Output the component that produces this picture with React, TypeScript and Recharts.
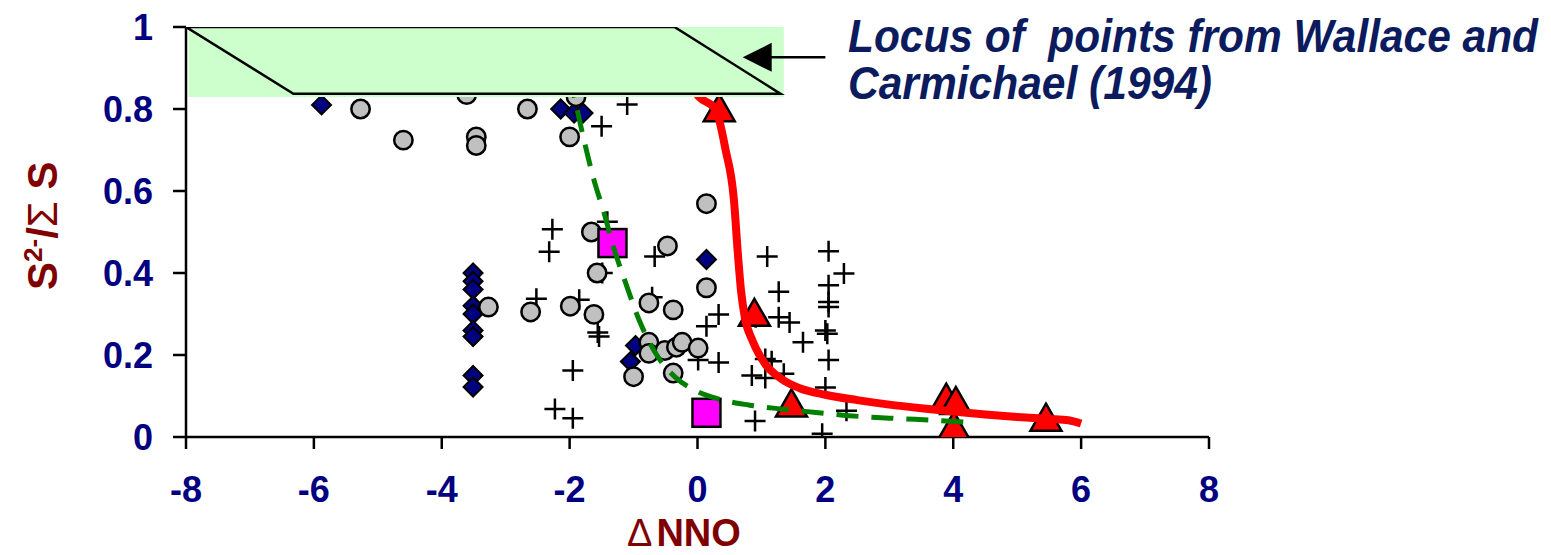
// S2-/ΣS vs ΔNNO scatter with Wallace & Carmichael locus box
import { ComposedChart, Scatter, Line, XAxis, YAxis, ReferenceArea } from "recharts";

const xTicks = [-8, -6, -4, -2, 0, 2, 4, 6, 8];
const yTicks = [0, 0.2, 0.4, 0.6, 0.8, 1];

const grayCircles = [
  { x: -5.27, y: 0.8 }, { x: -4.6, y: 0.724 }, { x: -3.61, y: 0.835 }, { x: -3.46, y: 0.732 },
  { x: -3.46, y: 0.711 }, { x: -2.66, y: 0.8 }, { x: -2.0, y: 0.732 }, { x: -1.9, y: 0.83 },
  { x: -1.66, y: 0.5 }, { x: -1.57, y: 0.4 }, { x: -3.27, y: 0.317 }, { x: -2.61, y: 0.305 },
  { x: -1.99, y: 0.319 }, { x: -1.62, y: 0.299 }, { x: -0.76, y: 0.327 }, { x: -0.38, y: 0.31 },
  { x: -0.76, y: 0.231 }, { x: -0.76, y: 0.204 }, { x: -0.51, y: 0.211 }, { x: -0.33, y: 0.219 },
  { x: -0.24, y: 0.231 }, { x: 0.01, y: 0.217 }, { x: -1.0, y: 0.147 }, { x: -0.38, y: 0.156 },
  { x: 0.14, y: 0.569 }, { x: -0.47, y: 0.466 }, { x: 0.14, y: 0.364 },
];

const navyDiamonds = [
  { x: -5.88, y: 0.81 }, { x: -2.14, y: 0.8 }, { x: -1.93, y: 0.79 }, { x: -1.79, y: 0.79 },
  { x: -3.51, y: 0.4 }, { x: -3.51, y: 0.38 }, { x: -3.51, y: 0.36 }, { x: -3.51, y: 0.32 },
  { x: -3.51, y: 0.3 }, { x: -3.51, y: 0.26 }, { x: -3.51, y: 0.245 }, { x: -3.51, y: 0.15 },
  { x: -3.51, y: 0.122 }, { x: -0.97, y: 0.223 }, { x: -1.05, y: 0.184 }, { x: 0.14, y: 0.433 },
];

const crosses = [
  { x: -2.27, y: 0.507 }, { x: -2.32, y: 0.452 }, { x: -1.41, y: 0.525 }, { x: -0.67, y: 0.44 },
  { x: -1.49, y: 0.4 }, { x: -2.52, y: 0.337 }, { x: -1.85, y: 0.335 }, { x: -1.56, y: 0.255 },
  { x: -1.54, y: 0.245 }, { x: -0.71, y: 0.341 }, { x: -1.95, y: 0.162 }, { x: -2.23, y: 0.068 },
  { x: -1.95, y: 0.046 }, { x: 0.33, y: 0.299 }, { x: 0.14, y: 0.27 }, { x: 0.01, y: 0.188 },
  { x: 0.33, y: 0.182 }, { x: 1.09, y: 0.44 }, { x: 1.27, y: 0.354 }, { x: 0.91, y: 0.292 },
  { x: 1.27, y: 0.292 }, { x: 1.44, y: 0.279 }, { x: 1.65, y: 0.231 }, { x: 1.06, y: 0.19 },
  { x: 1.16, y: 0.185 }, { x: 0.85, y: 0.15 }, { x: 1.06, y: 0.144 }, { x: 1.35, y: 0.154 },
  { x: 0.9, y: 0.039 }, { x: 2.05, y: 0.453 }, { x: 2.29, y: 0.399 }, { x: 2.05, y: 0.37 },
  { x: 2.05, y: 0.329 }, { x: 2.05, y: 0.317 }, { x: 2.0, y: 0.26 }, { x: 2.03, y: 0.252 },
  { x: 2.05, y: 0.188 }, { x: 2.0, y: 0.121 }, { x: 1.95, y: 0.008 }, { x: 2.33, y: 0.064 },
  { x: -1.5, y: 0.758 }, { x: -1.1, y: 0.811 },
];

const magentaSquares = [{ x: -5.47, y: 0.98 }, { x: -1.33, y: 0.473 }, { x: 0.14, y: 0.059 }];

const redTriangles = [
  { x: 0.34, y: 0.802 }, { x: 0.89, y: 0.303 }, { x: 1.47, y: 0.082 }, { x: 3.89, y: 0.096 },
  { x: 4.04, y: 0.088 }, { x: 4.01, y: 0.027 }, { x: 5.45, y: 0.047 },
];

const redCurve = [
  { x: -6.4, y: 1.0 }, { x: -5.6, y: 0.996 }, { x: -4.5, y: 0.985 }, { x: -3.0, y: 0.965 },
  { x: -1.5, y: 0.93 }, { x: -0.5, y: 0.89 }, { x: -0.1, y: 0.855 }, { x: 0.02, y: 0.83 },
  { x: 0.28, y: 0.8 }, { x: 0.44, y: 0.7 }, { x: 0.57, y: 0.578 }, { x: 0.63, y: 0.45 },
  { x: 0.68, y: 0.358 }, { x: 0.74, y: 0.292 }, { x: 0.86, y: 0.235 }, { x: 1.05, y: 0.18 },
  { x: 1.3, y: 0.143 }, { x: 1.6, y: 0.119 }, { x: 2.0, y: 0.103 }, { x: 2.5, y: 0.09 },
  { x: 3.0, y: 0.079 }, { x: 3.5, y: 0.07 }, { x: 4.0, y: 0.062 }, { x: 4.5, y: 0.055 },
  { x: 5.0, y: 0.049 }, { x: 5.5, y: 0.044 }, { x: 5.8, y: 0.041 }, { x: 6.0, y: 0.033 },
];

const greenCurve = [
  { x: -2.0, y: 0.88 }, { x: -1.93, y: 0.832 }, { x: -1.79, y: 0.734 }, { x: -1.62, y: 0.627 },
  { x: -1.46, y: 0.546 }, { x: -1.33, y: 0.472 }, { x: -1.12, y: 0.374 }, { x: -0.91, y: 0.284 },
  { x: -0.65, y: 0.203 }, { x: -0.34, y: 0.145 }, { x: -0.03, y: 0.113 }, { x: 0.34, y: 0.092 },
  { x: 0.8, y: 0.078 }, { x: 1.33, y: 0.068 }, { x: 1.85, y: 0.06 }, { x: 2.37, y: 0.052 },
  { x: 3.0, y: 0.046 }, { x: 3.8, y: 0.04 }, { x: 4.33, y: 0.035 },
];

// locus parallelogram (Wallace and Carmichael 1994)
const locusOutline = [
  { x: -8, y: 1.0 }, { x: -0.36, y: 1.0 }, { x: 1.3, y: 0.837 }, { x: -6.32, y: 0.837 }, { x: -8, y: 1.0 },
];
const locusBox = { x1: -7.96, x2: 1.35, y1: 0.829, y2: 1.0 };

const arrowShaft = [{ x: 1.1, y: 0.926 }, { x: 2.0, y: 0.926 }];
const arrowTip = [{ x: 0.707, y: 0.926 }];

const FONT = "'Liberation Sans', Arial, Helvetica, sans-serif";
const tickStyle = { fill: "#000080", fontSize: 36, fontWeight: "bold", fontFamily: FONT };

const Circle = (p: any) => (
  <circle cx={p.cx} cy={p.cy} r={9.2} fill="#c0c0c0" stroke="#000" strokeWidth={2.5} />
);
const Diamond = (p: any) => (
  <path
    d={`M${p.cx},${p.cy - 9.5} L${p.cx + 9.5},${p.cy} L${p.cx},${p.cy + 9.5} L${p.cx - 9.5},${p.cy} Z`}
    fill="#000080" stroke="#000" strokeWidth={2}
  />
);
const Cross = (p: any) => (
  <path
    d={`M${p.cx - 10.5},${p.cy} H${p.cx + 10.5} M${p.cx},${p.cy - 10.5} V${p.cy + 10.5}`}
    stroke="#000" strokeWidth={2.5} fill="none"
  />
);
const Square = (p: any) => (
  <rect x={p.cx - 14} y={p.cy - 14} width={28} height={28} fill="#ff00ff" stroke="#000" strokeWidth={2.5} />
);
const Triangle = (p: any) => (
  <path
    d={`M${p.cx},${p.cy - 14} L${p.cx + 15.5},${p.cy + 13} L${p.cx - 15.5},${p.cy + 13} Z`}
    fill="#ff0000" stroke="#000" strokeWidth={2.5} strokeLinejoin="miter"
  />
);
const ArrowHead = (p: any) => (
  <path d={`M${p.cx},${p.cy} L${p.cx + 29},${p.cy - 14.5} L${p.cx + 29},${p.cy + 14.5} Z`} fill="#000" />
);

export default function App() {
  return (
    <div style={{ position: "absolute", left: 0, top: 0, width: 1551, height: 555, background: "#fff" }}>
      <ComposedChart width={1551} height={555} margin={{ top: 27, right: 342, bottom: 0, left: 0 }}>
        <XAxis
          type="number"
          dataKey="x"
          domain={[-8, 8]}
          ticks={xTicks}
          interval={0}
          allowDataOverflow
          tickSize={12}
          tickMargin={27}
          height={118}
          axisLine={{ stroke: "#000", strokeWidth: 2.5 }}
          tickLine={{ stroke: "#000", strokeWidth: 2.5 }}
          tick={tickStyle}
        />
        <YAxis
          type="number"
          dataKey="y"
          domain={[0, 1]}
          ticks={yTicks}
          interval={0}
          allowDataOverflow
          tickSize={13}
          tickMargin={20}
          width={186}
          axisLine={{ stroke: "#000", strokeWidth: 2.5 }}
          tickLine={{ stroke: "#000", strokeWidth: 2.5 }}
          tick={tickStyle}
        />
        <Scatter data={crosses} dataKey="y" shape={Cross} isAnimationActive={false} zIndex={601} />
        <Scatter data={navyDiamonds} dataKey="y" shape={Diamond} isAnimationActive={false} zIndex={602} />
        <Scatter data={grayCircles} dataKey="y" shape={Circle} isAnimationActive={false} zIndex={603} />
        <Scatter data={magentaSquares} dataKey="y" shape={Square} isAnimationActive={false} zIndex={604} />
        <Scatter data={redTriangles} dataKey="y" shape={Triangle} isAnimationActive={false} zIndex={605} />
        <Line
          data={greenCurve}
          dataKey="y"
          type="monotone"
          stroke="#008000"
          strokeWidth={5}
          strokeDasharray="22 13"
          dot={false}
          activeDot={false}
          isAnimationActive={false}
          zIndex={610}
        />
        <Line
          data={redCurve}
          dataKey="y"
          type="monotone"
          stroke="#ff0000"
          strokeWidth={8}
          dot={false}
          activeDot={false}
          isAnimationActive={false}
          zIndex={611}
        />
        <ReferenceArea
          x1={locusBox.x1}
          x2={locusBox.x2}
          y1={locusBox.y1}
          y2={locusBox.y2}
          fill="#ccffcc"
          fillOpacity={1}
          stroke="none"
          zIndex={620}
        />
        <Line
          data={locusOutline}
          dataKey="y"
          type="linear"
          stroke="#000"
          strokeWidth={2.5}
          dot={false}
          activeDot={false}
          isAnimationActive={false}
          zIndex={621}
        />
        <Line
          data={arrowShaft}
          dataKey="y"
          type="linear"
          stroke="#000"
          strokeWidth={2.5}
          dot={false}
          activeDot={false}
          isAnimationActive={false}
          zIndex={622}
        />
        <Scatter data={arrowTip} dataKey="y" shape={ArrowHead} isAnimationActive={false} zIndex={623} />
      </ComposedChart>
      <svg
        width={1551}
        height={555}
        style={{ position: "absolute", left: 0, top: 0, pointerEvents: "none" }}
      >
        <g fontFamily={FONT} fontWeight="bold" fontStyle="italic" fill="#0b1b5e" fontSize={38}>
          <text
            transform="translate(848, 52) scale(1, 1.21)"
            x={0}
            y={0}
            textLength={690}
            lengthAdjust="spacingAndGlyphs"
            style={{ whiteSpace: "pre" }}
          >
            {"Locus of  points from Wallace and"}
          </text>
          <text
            transform="translate(848, 99) scale(1, 1.21)"
            x={0}
            y={0}
            textLength={364}
            lengthAdjust="spacingAndGlyphs"
          >
            Carmichael (1994)
          </text>
        </g>
        <text x={627} y={546} fontFamily={FONT} fontWeight="bold" fontSize={38} fill="#800000">
          <tspan fontWeight="normal">Δ</tspan>
          <tspan dx={4}>NNO</tspan>
        </text>
        <g transform="translate(57, 290) rotate(-90)">
          <text x={0} y={0} fontFamily={FONT} fontWeight="bold" fontSize={42} fill="#800000">
            <tspan>S</tspan>
            <tspan dy={-15} fontSize={26}>2-</tspan>
            <tspan dy={15}>/</tspan>
            <tspan fontWeight="normal">Σ</tspan>
            <tspan> S</tspan>
          </text>
        </g>
      </svg>
    </div>
  );
}
